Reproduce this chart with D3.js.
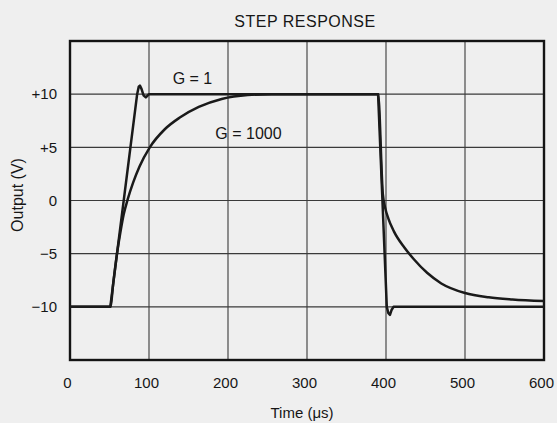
<!DOCTYPE html>
<html>
<head>
<meta charset="utf-8">
<script src="https://cdn.jsdelivr.net/npm/d3@7"></script>
<style>
  html, body { margin: 0; padding: 0; background: #efefef; }
  svg { display: block; }
  text { font-family: "Liberation Sans", Arial, Helvetica, sans-serif; fill: #161616; }
</style>
</head>
<body>
<div id="chart"></div>
<script>
// ---- Data ----
const chartTitle = "STEP RESPONSE";
const xLabel = "Time (μs)";
const yLabel = "Output (V)";
const xTicks = [0, 100, 200, 300, 400, 500, 600];
const xTickLabels = ["0", "100", "200", "300", "400", "500", "600"];
const yGrid = [-10, -5, 0, 5, 10];
const yTickLabels = ["−10", "−5", "0", "+5", "+10"];

// G = 1 trace
const timeG1 = [0, 51, 85, 87, 88.5, 90.5, 93, 96, 100, 390, 401, 403, 405, 407, 409.5, 600];
const outG1  = [-10, -10, 10, 10.7, 10.8, 10.5, 9.9, 9.7, 10, 10, -10, -10.6, -10.75, -10.3, -10, -10];

// G = 1000 trace
const timeG1000 = [0, 51, 55, 59.5, 64, 68, 73, 80, 88, 101, 120, 139, 163, 192, 225, 255,
                   390, 396, 399, 403, 410, 423, 435, 452, 470, 500, 530, 560, 600];
const outG1000  = [-10, -10, -7.6, -5, -2.9, -1.3, 0.1, 1.7, 3.2, 5, 6.7, 7.8, 8.8, 9.55, 9.92, 10,
                   10, 0.6, -0.7, -1.7, -2.9, -4.4, -5.5, -6.8, -7.8, -8.7, -9.1, -9.3, -9.45];

const seriesLabels = ["G = 1", "G = 1000"];
const labelAnchors = [[130, 10.95], [184, 5.8]]; // [time, volts] where each label's baseline begins

// ---- Layout ----
const W = 557, H = 423;
const M = { left: 70, right: 13, top: 41, bottom: 63 };

const svg = d3.select("#chart").append("svg").attr("width", W).attr("height", H);

const x = d3.scaleLinear().domain([0, 600]).range([M.left, W - M.right]);
const y = d3.scaleLinear().domain([-15, 15]).range([H - M.bottom, M.top]);

// gridlines
const grid = svg.append("g").attr("stroke", "#3a3a3a").attr("stroke-width", 1.1);
grid.selectAll("line.v").data(xTicks.slice(1, -1)).join("line")
  .attr("x1", d => x(d)).attr("x2", d => x(d))
  .attr("y1", y(15)).attr("y2", y(-15));
grid.selectAll("line.h").data(yGrid).join("line")
  .attr("x1", x(0)).attr("x2", x(600))
  .attr("y1", d => y(d)).attr("y2", d => y(d));

// frame
svg.append("rect")
  .attr("x", x(0)).attr("y", y(15))
  .attr("width", x(600) - x(0)).attr("height", y(-15) - y(15))
  .attr("fill", "none").attr("stroke", "#141414").attr("stroke-width", 2.4);

// axes (labels only; ticks are the gridlines)
const xAxis = d3.axisBottom(x).tickValues(xTicks).tickFormat((d, i) => xTickLabels[i]).tickSize(0).tickPadding(17);
const gx = svg.append("g").attr("transform", `translate(0,${y(-15)})`).call(xAxis);
gx.select(".domain").remove();
gx.selectAll("text").attr("font-size", 15).attr("dx", -3).attr("fill", "#161616")
  .attr("font-family", "'Liberation Sans', Arial, sans-serif");

const yAxis = d3.axisLeft(y).tickValues(yGrid).tickFormat((d, i) => yTickLabels[i]).tickSize(0).tickPadding(13);
const gy = svg.append("g").attr("transform", `translate(${x(0)},0)`).call(yAxis);
gy.select(".domain").remove();
gy.selectAll("text").attr("font-size", 15).attr("fill", "#161616")
  .attr("font-family", "'Liberation Sans', Arial, sans-serif");

// title and axis titles
svg.append("text").attr("x", 305).attr("y", 27).attr("text-anchor", "middle")
  .attr("font-size", 16).attr("letter-spacing", 0.5).text(chartTitle);
svg.append("text").attr("x", 302).attr("y", 418).attr("text-anchor", "middle")
  .attr("font-size", 15).text(xLabel);
svg.append("text").attr("transform", "translate(23,195) rotate(-90)").attr("text-anchor", "middle")
  .attr("font-size", 16).text(yLabel);

// traces
const lineLinear = d3.line().x(d => x(d[0])).y(d => y(d[1])).curve(d3.curveLinear);
const lineSmooth = d3.line().x(d => x(d[0])).y(d => y(d[1])).curve(d3.curveMonotoneX);

svg.append("path").datum(d3.zip(timeG1000, outG1000))
  .attr("d", lineSmooth).attr("fill", "none").attr("stroke", "#1a1a1a")
  .attr("stroke-width", 2.5).attr("stroke-linejoin", "round");
svg.append("path").datum(d3.zip(timeG1, outG1))
  .attr("d", lineLinear).attr("fill", "none").attr("stroke", "#1a1a1a")
  .attr("stroke-width", 2.5).attr("stroke-linejoin", "round");

// series labels
svg.selectAll("text.series").data(seriesLabels).join("text")
  .attr("class", "series")
  .attr("x", (d, i) => x(labelAnchors[i][0]))
  .attr("y", (d, i) => y(labelAnchors[i][1]))
  .attr("font-size", 16).text(d => d);
</script>
</body>
</html>
